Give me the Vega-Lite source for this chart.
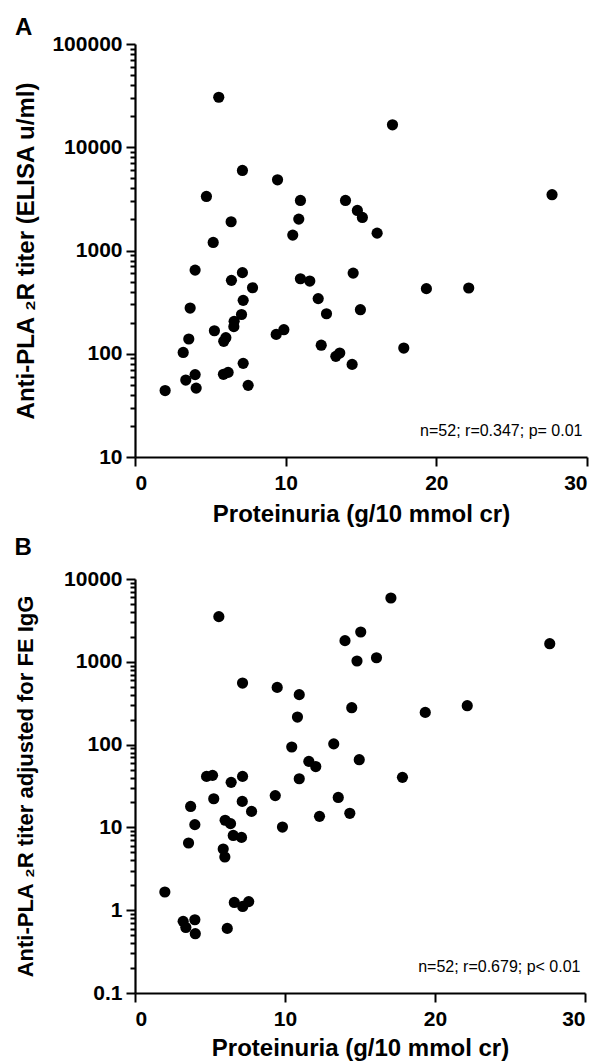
{
  "$schema": "https://vega.github.io/schema/vega-lite/v6.json",
  "background": "white",
  "padding": {"left": 14, "top": 16, "right": 5, "bottom": 2},
  "spacing": 10,
  "config": {
    "view": {"stroke": null},
    "font": "Liberation Sans",
    "axis": {
      "grid": false,
      "domainColor": "black",
      "domainWidth": 2.2,
      "tickColor": "black",
      "tickWidth": 2,
      "labelColor": "black",
      "labelFont": "Liberation Sans",
      "labelFontWeight": "bold",
      "labelFontSize": 21,
      "titleFont": "Liberation Sans",
      "titleFontWeight": "bold",
      "titleColor": "black"
    }
  },
  "datasets": {
    "a": [
      {"protein": 5.56, "titer": 30500},
      {"protein": 7.13, "titer": 5960},
      {"protein": 9.46, "titer": 4840},
      {"protein": 4.74, "titer": 3340},
      {"protein": 10.98, "titer": 3055},
      {"protein": 10.87, "titer": 2014},
      {"protein": 6.38, "titer": 1900},
      {"protein": 10.47, "titer": 1409},
      {"protein": 5.19, "titer": 1197},
      {"protein": 17.09, "titer": 16500},
      {"protein": 13.97, "titer": 3055},
      {"protein": 14.76, "titer": 2444},
      {"protein": 15.09, "titer": 2090},
      {"protein": 16.07, "titer": 1473},
      {"protein": 27.68, "titer": 3470},
      {"protein": 3.99, "titer": 646},
      {"protein": 6.4, "titer": 514},
      {"protein": 7.13, "titer": 610},
      {"protein": 7.8, "titer": 436},
      {"protein": 7.18, "titer": 329},
      {"protein": 3.66, "titer": 277},
      {"protein": 7.07, "titer": 240},
      {"protein": 6.58, "titer": 206},
      {"protein": 6.56, "titer": 183},
      {"protein": 5.27, "titer": 167},
      {"protein": 6.03, "titer": 143},
      {"protein": 5.89, "titer": 132},
      {"protein": 3.57, "titer": 139},
      {"protein": 9.37, "titer": 154},
      {"protein": 9.88, "titer": 171},
      {"protein": 3.2, "titer": 103},
      {"protein": 3.37, "titer": 55.6},
      {"protein": 3.99, "titer": 62.8},
      {"protein": 4.06, "titer": 46.5},
      {"protein": 2.0, "titer": 44},
      {"protein": 5.87, "titer": 63.2},
      {"protein": 6.18, "titer": 66},
      {"protein": 7.18, "titer": 80.7},
      {"protein": 7.51, "titer": 49.4},
      {"protein": 10.98, "titer": 533},
      {"protein": 11.6, "titer": 506},
      {"protein": 14.48, "titer": 604},
      {"protein": 12.16, "titer": 342},
      {"protein": 12.71, "titer": 244},
      {"protein": 14.96, "titer": 267},
      {"protein": 19.34, "titer": 427},
      {"protein": 22.15, "titer": 433},
      {"protein": 12.36, "titer": 121},
      {"protein": 13.33, "titer": 94.4},
      {"protein": 13.59, "titer": 101.6},
      {"protein": 14.41, "titer": 78.9},
      {"protein": 17.84, "titer": 113.5}
    ],
    "b": [
      {"protein": 5.59, "adj": 3510},
      {"protein": 7.17, "adj": 554},
      {"protein": 9.48, "adj": 491},
      {"protein": 10.95, "adj": 401},
      {"protein": 10.83, "adj": 215},
      {"protein": 10.45, "adj": 93.6},
      {"protein": 11.59, "adj": 62.7},
      {"protein": 10.95, "adj": 38.7},
      {"protein": 4.77, "adj": 41.3},
      {"protein": 5.17, "adj": 42.5},
      {"protein": 7.17, "adj": 41.3},
      {"protein": 6.41, "adj": 35},
      {"protein": 5.25, "adj": 22.2},
      {"protein": 9.35, "adj": 24.2},
      {"protein": 7.15, "adj": 20.6},
      {"protein": 3.71, "adj": 17.9},
      {"protein": 7.77, "adj": 15.6},
      {"protein": 3.99, "adj": 10.8},
      {"protein": 6.01, "adj": 12.2},
      {"protein": 6.37, "adj": 11.1},
      {"protein": 9.83, "adj": 10.1},
      {"protein": 6.55, "adj": 8.0},
      {"protein": 7.1, "adj": 7.57},
      {"protein": 3.57, "adj": 6.48},
      {"protein": 5.88, "adj": 5.48},
      {"protein": 5.99, "adj": 4.39},
      {"protein": 12.3, "adj": 13.6},
      {"protein": 1.99, "adj": 1.66},
      {"protein": 6.62, "adj": 1.24},
      {"protein": 7.18, "adj": 1.11},
      {"protein": 7.58, "adj": 1.27},
      {"protein": 3.21, "adj": 0.733},
      {"protein": 3.99, "adj": 0.767},
      {"protein": 3.39, "adj": 0.619},
      {"protein": 4.02, "adj": 0.52},
      {"protein": 6.15, "adj": 0.603},
      {"protein": 17.06, "adj": 5900},
      {"protein": 15.05, "adj": 2290},
      {"protein": 14.0, "adj": 1800},
      {"protein": 14.8, "adj": 1023},
      {"protein": 16.1, "adj": 1120},
      {"protein": 27.65, "adj": 1655},
      {"protein": 14.45, "adj": 279},
      {"protein": 19.35, "adj": 245},
      {"protein": 22.15, "adj": 295},
      {"protein": 13.25, "adj": 102},
      {"protein": 12.05, "adj": 54.3},
      {"protein": 14.95, "adj": 65.7},
      {"protein": 17.83, "adj": 40.2},
      {"protein": 13.55, "adj": 23},
      {"protein": 14.32, "adj": 14.8}
    ]
  },
  "vconcat": [
    {
      "width": 452,
      "height": 413,
      "title": {"text": "A", "anchor": "start", "frame": "bounds", "fontSize": 24, "fontWeight": "bold", "color": "black", "offset": -7},
      "layer": [
        {
          "data": {"name": "a"},
          "mark": {"type": "point", "shape": "circle", "filled": true, "size": 125, "color": "black", "opacity": 1},
          "encoding": {
            "x": {
              "field": "protein", "type": "quantitative",
              "scale": {"domain": [0, 30], "nice": false, "zero": false},
              "axis": {"title": "Proteinuria (g/10 mmol cr)", "values": [0, 10, 20, 30], "tickSize": 9, "labelPadding": 6, "titleFontSize": 24, "titlePadding": 9}
            },
            "y": {
              "field": "titer", "type": "quantitative",
              "scale": {"type": "log", "domain": [10, 100000], "nice": false},
              "axis": {
                "title": "Anti-PLA ₂R titer (ELISA u/ml)",
                "titleFontSize": 24,
                "titlePadding": 13,
                "format": "~g",
                "values": [10,20,30,40,50,60,70,80,90,100,200,300,400,500,600,700,800,900,1000,2000,3000,4000,5000,6000,7000,8000,9000,10000,20000,30000,40000,50000,60000,70000,80000,90000,100000],
                "labelExpr": "abs(log(datum.value)/LN10 - round(log(datum.value)/LN10)) < 0.000001 ? datum.label : ''",
                "tickSize": {"condition": {"test": "abs(log(datum.value)/LN10 - round(log(datum.value)/LN10)) < 0.000001", "value": 9}, "value": 5},
                "labelPadding": 4
              }
            }
          }
        },
        {
          "data": {"values": [{}]},
          "mark": {"type": "text", "align": "right", "baseline": "middle", "fontSize": 16, "font": "Liberation Sans", "color": "black"},
          "encoding": {
            "x": {"datum": 29.7, "type": "quantitative"},
            "y": {"datum": 17.7, "type": "quantitative"},
            "text": {"value": "n=52; r=0.347; p= 0.01"}
          }
        }
      ]
    },
    {
      "width": 450,
      "height": 414,
      "title": {"text": "B", "anchor": "start", "frame": "bounds", "fontSize": 24, "fontWeight": "bold", "color": "black", "offset": 8},
      "layer": [
        {
          "data": {"name": "b"},
          "mark": {"type": "point", "shape": "circle", "filled": true, "size": 125, "color": "black", "opacity": 1},
          "encoding": {
            "x": {
              "field": "protein", "type": "quantitative",
              "scale": {"domain": [0, 30], "nice": false, "zero": false},
              "axis": {"title": "Proteinuria (g/10 mmol cr)", "values": [0, 10, 20, 30], "tickSize": 9, "labelPadding": 6, "titleFontSize": 24, "titlePadding": 7}
            },
            "y": {
              "field": "adj", "type": "quantitative",
              "scale": {"type": "log", "domain": [0.1, 10000], "nice": false},
              "axis": {
                "title": "Anti-PLA ₂R titer adjusted for FE IgG",
                "titleFontSize": 22,
                "titlePadding": 26,
                "format": "~g",
                "values": [0.1,0.2,0.3,0.4,0.5,0.6,0.7,0.8,0.9,1,2,3,4,5,6,7,8,9,10,20,30,40,50,60,70,80,90,100,200,300,400,500,600,700,800,900,1000,2000,3000,4000,5000,6000,7000,8000,9000,10000],
                "labelExpr": "abs(log(datum.value)/LN10 - round(log(datum.value)/LN10)) < 0.000001 ? datum.label : ''",
                "tickSize": {"condition": {"test": "abs(log(datum.value)/LN10 - round(log(datum.value)/LN10)) < 0.000001", "value": 9}, "value": 5},
                "labelPadding": 4
              }
            }
          }
        },
        {
          "data": {"values": [{}]},
          "mark": {"type": "text", "align": "right", "baseline": "middle", "fontSize": 16, "font": "Liberation Sans", "color": "black"},
          "encoding": {
            "x": {"datum": 29.7, "type": "quantitative"},
            "y": {"datum": 0.204, "type": "quantitative"},
            "text": {"value": "n=52; r=0.679; p< 0.01"}
          }
        }
      ]
    }
  ]
}
